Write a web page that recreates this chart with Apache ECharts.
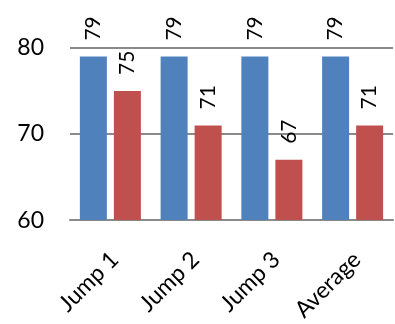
<!DOCTYPE html>
<html>
<head>
<meta charset="utf-8">
<script src="https://cdn.jsdelivr.net/npm/echarts@6/dist/echarts.min.js"></script>
<style>
  html, body { margin: 0; padding: 0; background: #fff; }
  #chart { width: 395px; height: 324px; }
</style>
</head>
<body>
<div id="chart"></div>
<script>
// Scores per jump, two series side by side
const categories = ['Jump 1', 'Jump 2', 'Jump 3', 'Average'];
const seriesA = [79, 79, 79, 79];
const seriesB = [75, 71, 67, 71];
const yTicks = { min: 60, max: 80, step: 10 };

const FONT = 'Lato';
const chart = echarts.init(document.getElementById('chart'), null, { renderer: 'canvas' });

const valueLabel = {
  show: true,
  position: 'top',
  rotate: 90,
  align: 'left',
  verticalAlign: 'middle',
  distance: 16,
  fontFamily: FONT,
  fontSize: 21,
  color: '#000'
};

chart.setOption({
  animation: false,
  grid: { left: 70, right: 2, top: 48, bottom: 103 },
  xAxis: {
    type: 'category',
    data: categories,
    axisLine: { show: true, lineStyle: { color: '#8a8a8a', width: 2 } },
    axisTick: { show: false },
    axisLabel: {
      rotate: 45,
      margin: 40,
      padding: [0, -6, 0, 0],
      fontFamily: FONT,
      fontSize: 23,
      color: '#000'
    }
  },
  yAxis: {
    type: 'value',
    min: yTicks.min,
    max: yTicks.max,
    interval: yTicks.step,
    axisLine: { show: false },
    axisTick: { show: false },
    splitLine: { lineStyle: { color: '#8a8a8a', width: 2 } },
    axisLabel: { margin: 26, fontFamily: FONT, fontSize: 23, color: '#000' }
  },
  series: [
    {
      type: 'bar',
      data: seriesA,
      barWidth: 27,
      barGap: '26%',
      itemStyle: { color: '#4F81BD' },
      label: valueLabel
    },
    {
      type: 'bar',
      data: seriesB,
      barWidth: 27,
      itemStyle: { color: '#C0504D' },
      label: valueLabel
    }
  ]
});
</script>
</body>
</html>
